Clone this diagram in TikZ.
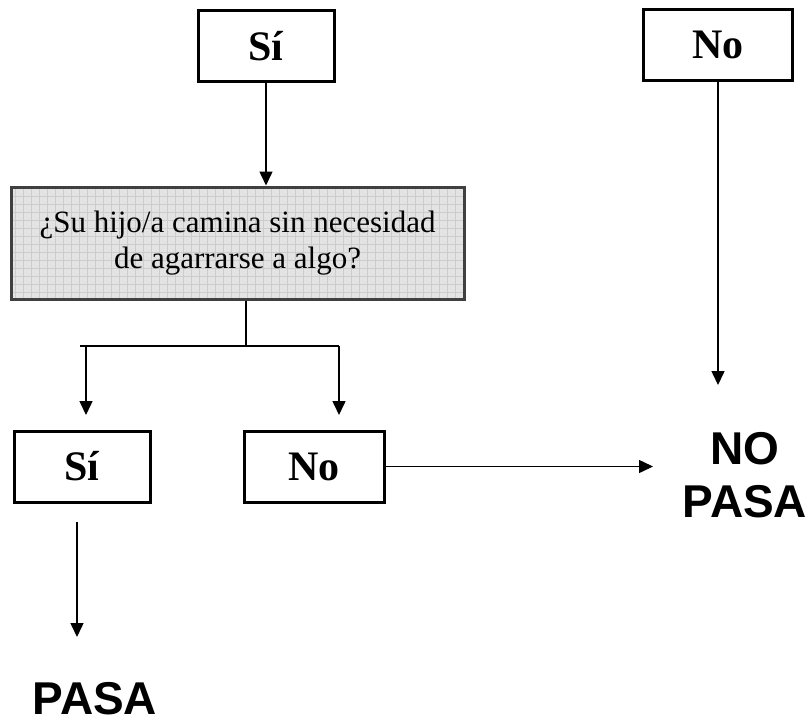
\documentclass[tikz,border=0pt]{standalone}
\usepackage{fontspec}
\setmainfont{Liberation Serif}
\newfontfamily\arialfont{Liberation Sans}
\usetikzlibrary{arrows.meta}

\begin{document}
\begin{tikzpicture}[x=1pt,y=-1pt,
    caja/.style={draw,line width=3pt,minimum width=136pt,minimum height=71pt,
                 inner sep=0pt,font=\fontsize{42}{48}\selectfont\bfseries},
    pregunta/.style={draw=black!75,line width=3pt,fill=gray!22,
                 minimum width=453pt,minimum height=112pt,inner sep=0pt,align=center,
                 font=\fontsize{31}{36}\selectfont,
                 path picture={\draw[gray!40,line width=0.6pt,step=8pt]
                   (path picture bounding box.south west) grid (path picture bounding box.north east);}},
    resultado/.style={align=center,inner sep=0pt,
                 font=\arialfont\fontsize{46}{53}\selectfont\bfseries},
    linea/.style={line width=1.5pt},
    flecha/.style={linea,-{Triangle[length=14pt,width=13pt]}}]
  \useasboundingbox (0,0) rectangle (811,724);

  % cajas de respuesta
  \node[caja]                     (siA)  at (266,46)    {Sí};
  \node[caja,minimum width=149pt] (noA)  at (718,45)    {No};
  \node[pregunta]                 (preg) at (237.5,243) {¿Su hijo/a camina sin necesidad\\de agarrarse a algo?};
  \node[caja]                     (siB)  at (82,466.5)  {Sí};
  \node[caja,minimum width=140pt] (noB)  at (314,466.5) {No};

  % resultados
  \node[resultado] (nopasa) at (745,475) {NO\\PASA};
  \node[resultado] (pasa)   at (95,699)  {PASA};

  \coordinate (rama)    at (246,346);
  \coordinate (izq)     at (80,346);
  \coordinate (der)     at (339,346);
  \coordinate (bajaSi)  at (86,415);
  \coordinate (bajaNo)  at (339,415);
  \coordinate (finA)    at (717,385);
  \coordinate (finB)    at (653,465);
  \coordinate (iniPasa) at (77,522);
  \coordinate (finPasa) at (77,637);

  \draw[flecha] (siA.south) -- (siA.south |- preg.north);
  \draw[flecha] (noA.south) -- (noA.south |- finA);
  \draw[linea]  (preg.south -| rama) -- (rama);
  \draw[linea]  (izq) -- (der);
  \draw[flecha] (bajaSi |- izq) -- (bajaSi);
  \draw[flecha] (der) -- (bajaNo);
  \draw[flecha] (noB.east) -- (noB.east -| finB);
  \draw[flecha] (iniPasa) -- (finPasa);
\end{tikzpicture}
\end{document}
